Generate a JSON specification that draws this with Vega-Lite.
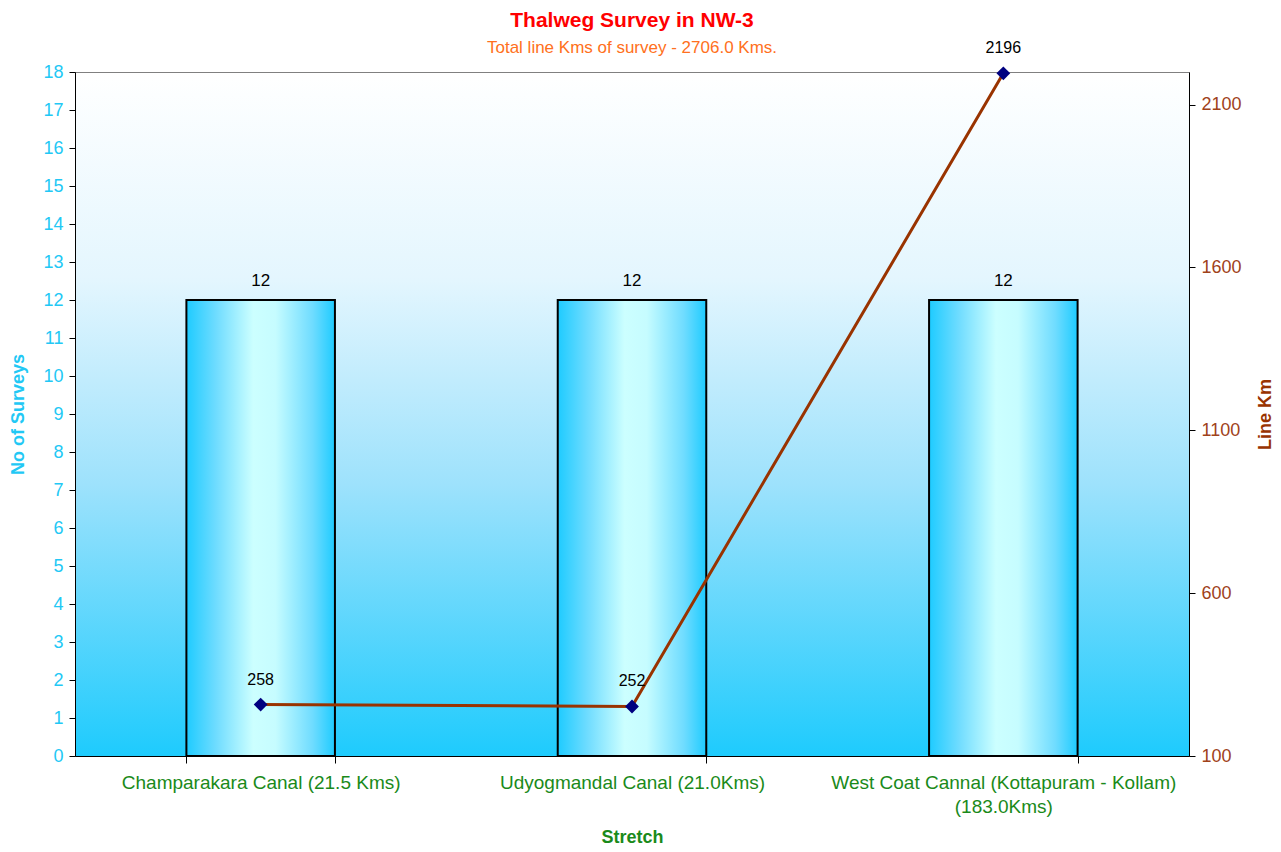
{
  "$schema": "https://vega.github.io/schema/vega-lite/v6.json",
  "width": 1114,
  "height": 684,
  "autosize": {"type": "none"},
  "padding": {"left": 75, "top": 72, "right": 92, "bottom": 96},
  "background": "white",
  "config": {
    "font": "Liberation Sans",
    "view": {
      "stroke": "#808080",
      "strokeWidth": 1,
      "fill": {
        "gradient": "linear",
        "x1": 0, "y1": 0, "x2": 0, "y2": 1,
        "stops": [
          {"offset": 0, "color": "#ffffff"},
          {"offset": 0.3, "color": "#e4f6fe"},
          {"offset": 0.6, "color": "#9ee2fc"},
          {"offset": 1, "color": "#1ecbfd"}
        ]
      }
    },
    "axis": {"labelFont": "Liberation Sans", "titleFont": "Liberation Sans", "domainColor": "#000000", "tickColor": "#000000", "grid": false, "labelOverlap": false}
  },
  "title": {
    "text": "Thalweg Survey in NW-3",
    "subtitle": "Total line Kms of survey - 2706.0 Kms.",
    "color": "#ff0000",
    "fontSize": 21,
    "fontWeight": "bold",
    "subtitleColor": "#ff7020",
    "subtitleFontSize": 17,
    "subtitlePadding": 9,
    "anchor": "middle",
    "offset": -16,
    "font": "Liberation Sans",
    "subtitleFont": "Liberation Sans"
  },
  "data": {
    "values": [
      {"stretch": "Champarakara Canal (21.5 Kms)", "surveys": 12, "linekm": 258},
      {"stretch": "Udyogmandal Canal (21.0Kms)", "surveys": 12, "linekm": 252},
      {"stretch": "West Coat Cannal (Kottapuram - Kollam) (183.0Kms)", "surveys": 12, "linekm": 2196}
    ]
  },
  "encoding": {
    "x": {
      "field": "stretch",
      "type": "nominal",
      "sort": null,
      "scale": {"paddingInner": 0.6, "paddingOuter": 0.3},
      "axis": {
        "title": "Stretch",
        "titleColor": "#1a8a1a",
        "titleFontSize": 18,
        "titleFontWeight": "bold",
        "titlePadding": 12,
        "labelColor": "#1a8a1a",
        "labelFontSize": 19,
        "labelAngle": 0,
        "labelPadding": 10,
        "labelLimit": 600,
        "labelLineHeight": 24,
        "tickBand": "extent",
        "tickSize": 7,
        "labelExpr": "datum.value == 'West Coat Cannal (Kottapuram - Kollam) (183.0Kms)' ? ['West Coat Cannal (Kottapuram - Kollam)', '(183.0Kms)'] : datum.label"
      }
    }
  },
  "layer": [
    {
      "encoding": {
        "y": {
          "field": "surveys",
          "type": "quantitative",
          "scale": {"domain": [0, 18], "nice": false},
          "axis": {
            "title": "No of Surveys",
            "titleColor": "#22c8f5",
            "titleFontSize": 18,
            "titleFontWeight": "bold",
            "titlePadding": 15,
            "labelColor": "#22c8f5",
            "labelFontSize": 18,
            "values": [0,1,2,3,4,5,6,7,8,9,10,11,12,13,14,15,16,17,18],
            "labelOverlap": false,
            "tickSize": 6,
            "labelPadding": 6
          }
        }
      },
      "layer": [
        {
          "mark": {
            "type": "bar",
            "stroke": "#000000",
            "strokeWidth": 2,
            "fill": {
              "gradient": "linear",
              "x1": 0, "y1": 0, "x2": 1, "y2": 0,
              "stops": [
                {"offset": 0, "color": "#1ecbff"},
                {"offset": 0.2, "color": "#6fdcff"},
                {"offset": 0.45, "color": "#ccffff"},
                {"offset": 0.6, "color": "#c6fcff"},
                {"offset": 0.85, "color": "#6fdcff"},
                {"offset": 1, "color": "#1ecbff"}
              ]
            }
          }
        },
        {
          "mark": {"type": "text", "dy": -19, "fontSize": 17, "color": "#000000"},
          "encoding": {
            "text": {"field": "surveys", "type": "quantitative"}
          }
        }
      ]
    },
    {
      "encoding": {
        "y": {
          "field": "linekm",
          "type": "quantitative",
          "scale": {"domain": [100, 2200], "nice": false, "zero": false},
          "axis": {
            "orient": "right",
            "title": "Line Km",
            "titleColor": "#993300",
            "titleFontSize": 18,
            "titleFontWeight": "bold",
            "titleAngle": 270,
            "titlePadding": 33,
            "labelColor": "#a0421a",
            "labelFontSize": 18,
            "format": "d",
            "values": [100, 600, 1100, 1600, 2100],
            "tickSize": 6,
            "labelPadding": 6
          }
        }
      },
      "layer": [
        {
          "mark": {"type": "line", "color": "#993300", "strokeWidth": 3}
        },
        {
          "mark": {"type": "point", "shape": "diamond", "filled": true, "color": "#000080", "size": 190, "opacity": 1}
        },
        {
          "mark": {"type": "text", "dy": -25, "fontSize": 16, "color": "#000000"},
          "encoding": {
            "text": {"field": "linekm", "type": "quantitative"}
          }
        }
      ]
    }
  ],
  "resolve": {"scale": {"y": "independent"}}
}
